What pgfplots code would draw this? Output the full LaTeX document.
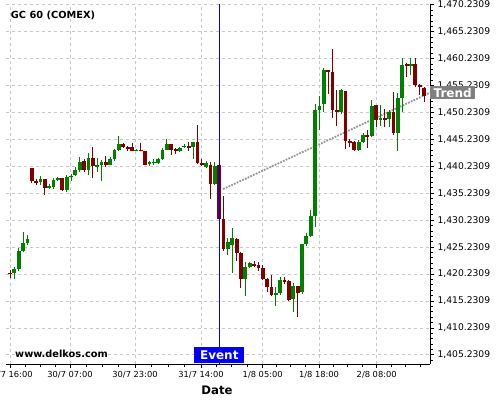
\documentclass[border=0pt]{standalone}
\usepackage{pgfplots}
\usepackage{pgfplotstable}
\pgfplotsset{compat=1.18}
\usepackage{fontspec}
\setmainfont{DejaVu Sans}
\definecolor{upg}{RGB}{0,128,0}
\definecolor{dnr}{RGB}{128,0,0}
\definecolor{evblue}{RGB}{0,0,255}
\definecolor{trgray}{RGB}{128,128,128}
\definecolor{trline}{RGB}{150,150,150}
\definecolor{gridc}{RGB}{200,200,200}

\pgfplotstableread{
i o h l c
0 1420.4 1421.0 1419.6 1420.3
1 1420.4 1421.6 1419.4 1421.1
2 1421.1 1425.0 1420.9 1424.5
3 1424.5 1428.1 1424.4 1426.0
4 1426.0 1427.5 1425.6 1426.7
5 1439.9 1439.9 1437.1 1437.6
6 1437.4 1437.8 1436.8 1437.3
7 1437.3 1438.5 1436.8 1437.9
8 1437.9 1437.9 1434.9 1436.3
9 1436.3 1436.9 1436.0 1436.5
10 1436.4 1438.0 1436.0 1437.6
11 1437.8 1438.3 1437.5 1438.0
12 1438.0 1438.1 1435.7 1435.9
13 1435.9 1438.6 1435.5 1438.3
14 1438.3 1438.9 1437.5 1438.5
15 1438.6 1440.1 1438.5 1439.6
16 1439.6 1442.0 1439.2 1441.0
17 1441.2 1441.6 1439.2 1439.5
18 1439.5 1442.7 1438.6 1441.8
19 1441.7 1443.8 1438.0 1440.2
20 1440.1 1441.8 1439.2 1440.5
21 1440.5 1441.4 1437.5 1441.0
22 1441.0 1442.2 1440.1 1440.5
23 1440.5 1441.9 1440.4 1441.5
24 1441.5 1443.5 1441.2 1443.3
25 1443.3 1445.9 1443.1 1444.4
26 1444.3 1444.5 1443.6 1443.8
27 1443.9 1444.1 1443.0 1443.5
28 1443.8 1444.5 1443.0 1443.1
29 1443.2 1443.5 1443.0 1443.3
30 1443.3 1444.5 1443.0 1443.1
31 1443.1 1443.1 1440.4 1440.5
32 1440.7 1441.3 1440.2 1441.0
33 1440.8 1441.5 1440.4 1441.1
34 1440.8 1441.8 1440.6 1441.6
35 1441.6 1443.6 1441.5 1443.3
36 1443.3 1445.4 1443.2 1444.4
37 1444.4 1444.4 1442.4 1443.3
38 1443.4 1443.6 1442.5 1443.1
39 1443.1 1443.9 1442.9 1443.6
40 1443.9 1444.4 1443.6 1444.0
41 1444.0 1444.8 1443.1 1443.8
42 1443.8 1444.8 1441.5 1444.7
43 1444.7 1447.9 1440.6 1440.8
44 1440.8 1441.6 1440.3 1440.5
45 1440.2 1441.3 1440.0 1440.8
46 1440.4 1441.0 1434.2 1437.0
47 1437.0 1441.0 1436.7 1440.3
48 1440.4 1440.5 1430.3 1430.5
49 1430.5 1434.7 1424.6 1424.8
50 1424.9 1426.9 1423.7 1426.2
51 1425.7 1428.7 1420.4 1426.9
52 1426.8 1426.9 1422.6 1424.2
53 1424.2 1424.3 1417.6 1419.4
54 1419.4 1422.5 1416.2 1421.5
55 1421.5 1422.5 1421.3 1422.3
56 1422.1 1422.6 1421.5 1421.9
57 1422.0 1422.5 1420.9 1421.4
58 1421.4 1421.9 1419.1 1419.4
59 1419.4 1419.5 1416.9 1417.9
60 1417.9 1420.0 1416.2 1416.4
61 1416.4 1417.9 1414.4 1416.8
62 1416.8 1419.7 1416.4 1419.1
63 1419.1 1419.6 1418.3 1418.8
64 1418.9 1419.1 1415.2 1415.4
65 1415.7 1418.5 1413.2 1418.0
66 1418.0 1418.1 1412.2 1416.8
67 1416.9 1425.9 1416.6 1425.8
68 1425.8 1427.8 1425.5 1427.3
69 1427.3 1432.1 1427.1 1431.0
70 1431.0 1451.8 1429.0 1450.7
71 1450.7 1453.3 1447.0 1451.4
72 1451.8 1458.5 1450.3 1458.1
73 1458.1 1458.2 1453.7 1457.8
74 1457.8 1462.0 1449.3 1450.7
75 1450.7 1454.4 1447.7 1450.3
76 1450.3 1454.5 1449.9 1454.4
77 1454.2 1454.3 1443.4 1444.9
78 1445.0 1445.3 1443.8 1444.7
79 1444.7 1445.0 1443.0 1443.3
80 1443.3 1445.1 1443.0 1444.7
81 1444.7 1446.4 1444.5 1446.0
82 1446.0 1447.0 1443.6 1445.7
83 1445.9 1452.5 1445.6 1451.4
84 1451.6 1451.7 1447.5 1448.8
85 1449.0 1451.6 1447.8 1449.2
86 1449.2 1450.8 1447.6 1449.0
87 1449.1 1450.7 1447.6 1450.3
88 1450.3 1454.0 1446.1 1446.5
89 1446.5 1453.9 1443.0 1452.9
90 1452.9 1460.3 1450.3 1459.1
91 1459.2 1459.4 1456.9 1459.0
92 1459.0 1460.3 1457.2 1459.1
93 1459.2 1460.3 1455.0 1455.4
94 1455.3 1455.6 1453.5 1454.9
95 1454.8 1455.0 1452.2 1453.3
}\candles

\begin{document}
\begin{tikzpicture}[x=1pt,y=1pt]
\path[use as bounding box] (0,0) rectangle (500,400);
\begin{axis}[
  at={(6pt,36pt)}, anchor=south west,
  scale only axis, width=424pt, height=360pt,
  xmin=-0.918, xmax=96.37, ymin=1403.53, ymax=1470.37,
  axis x line*=bottom, axis y line*=right,
  axis line style={black, line width=1pt, -},
  tick align=outside,
  major tick length=4pt, minor tick length=3pt,
  every tick/.style={black, line width=0.8pt},
  xtick={0,13.77,28.68,43.83,57.98,70.9,84.14},
  xticklabels={29/7 16:00,30/7 07:00,30/7 23:00,31/7 14:00,1/8 05:00,1/8 18:00,2/8 08:00},
  minor xtick={3.44,6.89,10.33,17.5,21.2,24.95,32.47,36.26,40.04,47.37,50.9,54.44,61.2,64.44,67.67,74.21,77.52,80.83,87.45,90.76,94.07},
  ytick={1405.2309,1410.2309,1415.2309,1420.2309,1425.2309,1430.2309,1435.2309,1440.2309,1445.2309,1450.2309,1455.2309,1460.2309,1465.2309,1470.2309},
  yticklabels={{1,405.2309},{1,410.2309},{1,415.2309},{1,420.2309},{1,425.2309},{1,430.2309},{1,435.2309},{1,440.2309},{1,445.2309},{1,450.2309},{1,455.2309},{1,460.2309},{1,465.2309},{1,470.2309}},
  minor ytick={1404.2309,1406.2309,1407.2309,1408.2309,1409.2309,1411.2309,1412.2309,1413.2309,1414.2309,1416.2309,1417.2309,1418.2309,1419.2309,1421.2309,1422.2309,1423.2309,1424.2309,1426.2309,1427.2309,1428.2309,1429.2309,1431.2309,1432.2309,1433.2309,1434.2309,1436.2309,1437.2309,1438.2309,1439.2309,1441.2309,1442.2309,1443.2309,1444.2309,1446.2309,1447.2309,1448.2309,1449.2309,1451.2309,1452.2309,1453.2309,1454.2309,1456.2309,1457.2309,1458.2309,1459.2309,1461.2309,1462.2309,1463.2309,1464.2309,1466.2309,1467.2309,1468.2309,1469.2309},
  grid=major,
  grid style={dash pattern=on 3pt off 3pt, color=gridc, line width=0.8pt},
  xticklabel style={font=\fontsize{8.3}{10}\selectfont},
  yticklabel style={font=\fontsize{9.2}{10}\selectfont},
]
% trend line
\addplot[trline, line width=1.8pt, dash pattern=on 1.8pt off 1.2pt] coordinates {(48.9,1436.0) (96.37,1453.9)};
% wicks
\addplot[draw=none, no markers, forget plot,
  restrict expr to domain={\thisrow{c}-\thisrow{o}}{0:1000},
  error bars/.cd, y dir=both, y explicit, error mark=none,
  error bar style={draw=upg, line width=1pt}]
  table[x=i, y expr={(\thisrow{h}+\thisrow{l})/2}, y error expr={(\thisrow{h}-\thisrow{l})/2}] {\candles};
\addplot[draw=none, no markers, forget plot,
  restrict expr to domain={\thisrow{c}-\thisrow{o}}{-1000:-0.00001},
  error bars/.cd, y dir=both, y explicit, error mark=none,
  error bar style={draw=dnr, line width=1pt}]
  table[x=i, y expr={(\thisrow{h}+\thisrow{l})/2}, y error expr={(\thisrow{h}-\thisrow{l})/2}] {\candles};
% bodies
\addplot[draw=none, no markers, forget plot,
  restrict expr to domain={\thisrow{c}-\thisrow{o}}{0:1000},
  error bars/.cd, y dir=both, y explicit, error mark=none,
  error bar style={draw=upg, line width=3.8pt}]
  table[x=i, y expr={(\thisrow{o}+\thisrow{c})/2}, y error expr={max(abs(\thisrow{c}-\thisrow{o})/2,0.1)}] {\candles};
\addplot[draw=none, no markers, forget plot,
  restrict expr to domain={\thisrow{c}-\thisrow{o}}{-1000:-0.00001},
  error bars/.cd, y dir=both, y explicit, error mark=none,
  error bar style={draw=dnr, line width=3.8pt}]
  table[x=i, y expr={(\thisrow{o}+\thisrow{c})/2}, y error expr={max(abs(\thisrow{c}-\thisrow{o})/2,0.1)}] {\candles};
% event line
\addplot[evblue, line width=1pt] coordinates {(48.03,1403.53) (48.03,1470.37)};
\coordinate (tEnd) at (axis cs:96.37,1453.9);
\end{axis}
\node[fill=evblue, text=white, font=\bfseries\fontsize{12}{12}\selectfont, inner sep=0pt, minimum width=50pt, minimum height=16pt, anchor=south] at (219.3,36.5) {Event};
\node[fill=trgray, text=white, font=\bfseries\fontsize{12}{12}\selectfont, inner sep=0pt, minimum width=45pt, minimum height=13.5pt, anchor=west] at (tEnd) {Trend};
\node[anchor=west, inner sep=0pt, font=\bfseries\fontsize{9.8}{10}\selectfont] at (10.7,384.7) {GC 60 (COMEX)};
\node[anchor=west, inner sep=0pt, font=\bfseries\fontsize{9.8}{10}\selectfont] at (15,46.3) {www.delkos.com};
\node[inner sep=0pt, font=\bfseries\fontsize{11.7}{12}\selectfont] at (217,10) {Date};
\end{tikzpicture}
\end{document}
